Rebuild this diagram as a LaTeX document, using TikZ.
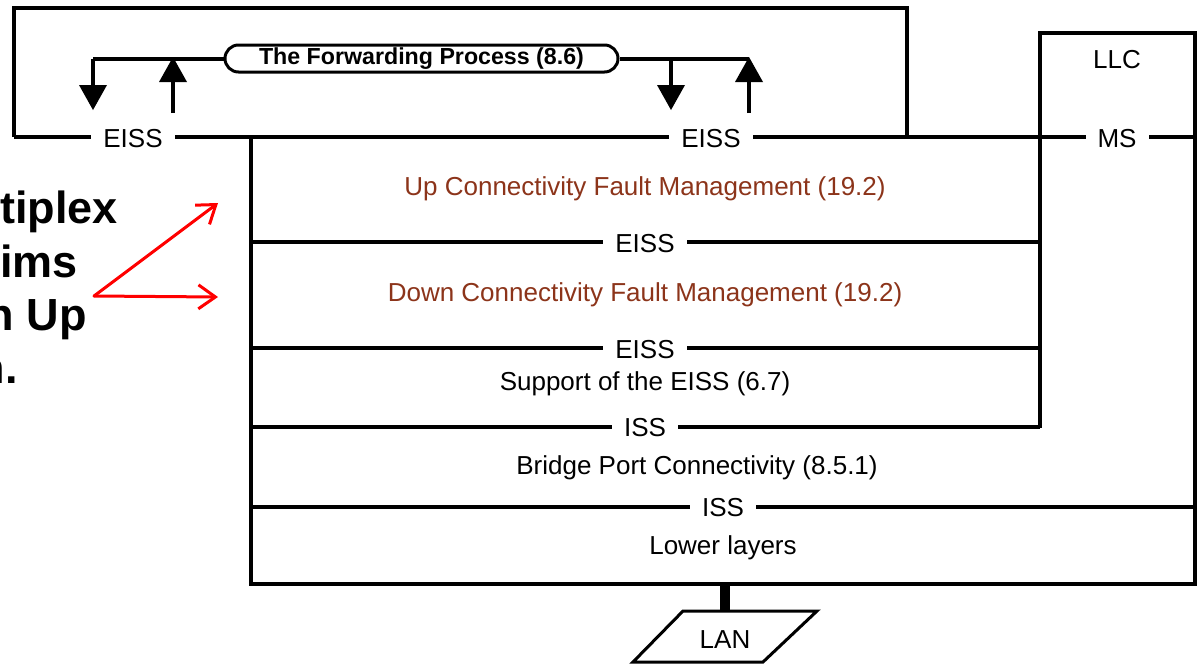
\documentclass[tikz,border=0pt]{standalone}
\usepackage{fontspec}
\setmainfont{Liberation Sans}
\usetikzlibrary{arrows.meta,shapes.misc}
\definecolor{cfmbrown}{RGB}{140,52,26}
\definecolor{pointred}{RGB}{255,0,0}
\begin{document}
\begin{tikzpicture}[x=1pt,y=-1pt,
  wire/.style={line width=4pt},
  svc/.style={fill=white,inner xsep=12pt,inner ysep=1pt,font=\fontsize{26}{30}\selectfont},
  layer/.style={font=\fontsize{26}{30}\selectfont,inner sep=0pt},
  cfm/.style={layer,text=cfmbrown},
  flow/.style={line width=4pt,-{Triangle[width=28pt,length=25pt,line width=0pt]}},
  note/.style={font=\bfseries\fontsize{45}{53}\selectfont,anchor=base east,inner sep=0pt},
  pointer/.style={draw=pointred,line width=3pt,line cap=round,
    -{Straight Barb[length=17pt,width=24pt,line width=3pt]}}
]
\useasboundingbox (0,0) rectangle (1198,664);
\fill[white] (0,0) rectangle (1198,664);

% relay frame around the forwarding process
\draw[wire] (14,137) -- (14,8) -- (907,8) -- (907,137);
% common service line of the bridge port and the LLC
\draw[wire] (14,137) -- (1195,137);

% bridge port stack and LLC column
\draw[wire] (251,137) -- (251,584) -- (1195,584) -- (1195,33) -- (1040,33) -- (1040,428);
\draw[wire] (251,242) -- (1040,242);
\draw[wire] (251,348) -- (1040,348);
\draw[wire] (251,427) -- (1040,427);
\draw[wire] (251,507) -- (1195,507);

% service access points
\node[svc] (eissL) at (133,139) {EISS};
\node[svc] (eissR) at (711,139) {EISS};
\node[svc] (ms)    at (1117,139) {MS};
\node[svc] (eissA) at (645,244) {EISS};
\node[svc] (eissB) at (645,350) {EISS};
\node[svc] (issA)  at (645,428) {ISS};
\node[svc] (issB)  at (723,508) {ISS};

% layer names
\node[layer] (llc)  at (1117,60) {LLC};
\node[cfm]   (upm)  at (645,189) {Up Connectivity Fault Management (19.2)};
\node[cfm]   (dnm)  at (645,295) {Down Connectivity Fault Management (19.2)};
\node[layer] (seiss) at (645,384) {Support of the EISS (6.7)};
\node[layer] (bpc)  at (697,468) {Bridge Port Connectivity (8.5.1)};
\node[layer] (low)  at (723,548) {Lower layers};

% the forwarding process and its up/down paths
\node[draw,rounded rectangle,line width=3pt,minimum width=393pt,minimum height=27pt,
      inner sep=0pt,font=\bfseries\fontsize{23.2}{26}\selectfont] (fwd) at (421.5,58.5)
      {The Forwarding Process (8.6)};
\coordinate (lturn) at (93,58.5);
\coordinate (ldown) at (93,110);
\coordinate (lupS) at (173,113);
\coordinate (lupE) at (173,57);
\coordinate (rend) at (749,58.5);
\coordinate (rdnS) at (671,58.5);
\coordinate (rdown) at (671,110);
\coordinate (rupS) at (749,113);
\coordinate (rupE) at (749,57);
\draw[wire] (fwd.west) -- (lturn);
\draw[flow] (lturn) -- (ldown);
\draw[flow] (lupS) -- (lupE);
\draw[wire] (fwd.east) -- (rend);
\draw[flow] (rdnS) -- (rdown);
\draw[flow] (rupS) -- (rupE);

% LAN attachment
\coordinate (stackfoot) at (725,584);
\coordinate (lantop) at (725,611);
\draw[line width=10pt] (stackfoot) -- (lantop);
\draw[line width=3pt,line join=miter] (683,611) -- (817,611) -- (763,662) -- (633,662) -- cycle;
\node[layer] (lan) at (725,640) {LAN};

% side note
\node[note] (n1) at (118,223) {tiplex};
\node[note] (n2) at (78,277) {ims};
\node[note] (n3) at (87,330) {n Up};
\node[note] (n4) at (18,383) {n.};
\coordinate (fork) at (94,296);
\coordinate (toup) at (218,203);
\coordinate (todown) at (218,297);
\draw[pointer] (fork) -- (toup);
\draw[pointer] (fork) -- (todown);
\end{tikzpicture}
\end{document}
